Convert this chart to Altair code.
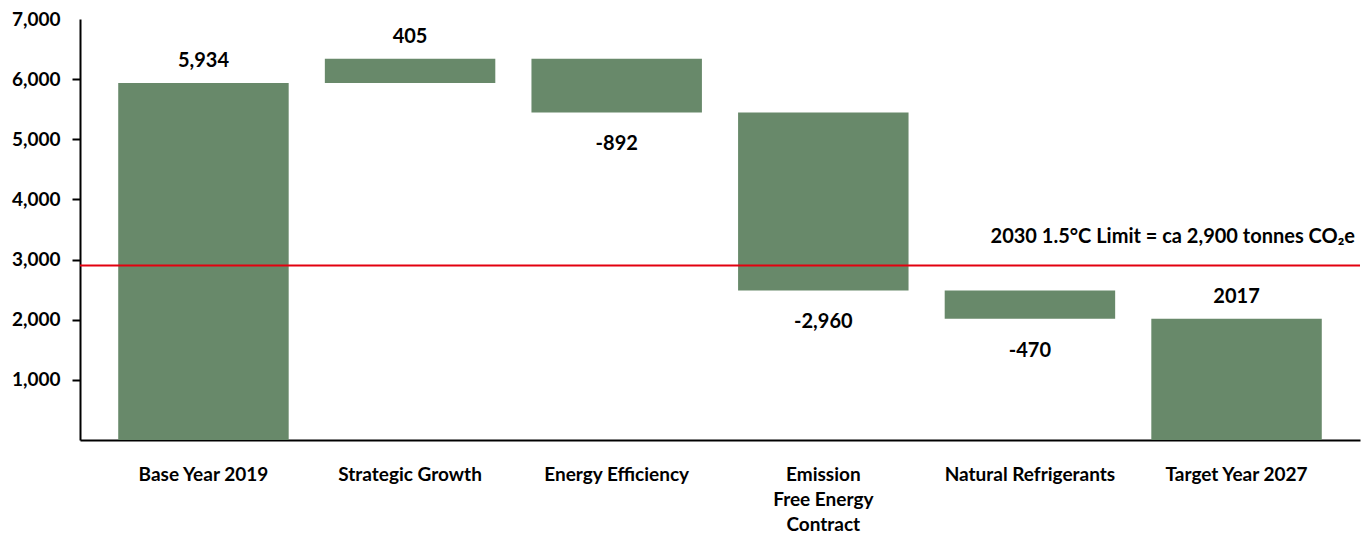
import altair as alt
import pandas as pd

categories = ["Base Year 2019", "Strategic Growth", "Energy Efficiency",
              "Emission Free Energy Contract", "Natural Refrigerants", "Target Year 2027"]
values = [5934, 405, -892, -2960, -470, 2017]
kinds = ["total", "delta", "delta", "delta", "delta", "total"]
labels = ["5,934", "405", "-892", "-2,960", "-470", "2017"]
limit_value = 2900
limit_text = "2030 1.5°C Limit = ca 2,900 tonnes CO₂e"
y_ticks = [1000, 2000, 3000, 4000, 5000, 6000, 7000]

rows = []
running = 0
for c, v, k, l in zip(categories, values, kinds, labels):
    if k == "total":
        start, end = 0, v
        running = v
    else:
        start, end = running, running + v
        running = end
    top = max(start, end)
    bottom = min(start, end)
    pos = v >= 0
    rows.append(dict(cat=c, start=start, end=end, label=l,
                     ly=top if pos else bottom, above=pos))
df = pd.DataFrame(rows)

FONT = "Lato"
GREEN = "#68896a"

x_enc = alt.X("cat:N", sort=categories, title=None,
              scale=alt.Scale(paddingInner=0.175, paddingOuter=0.185),
              axis=alt.Axis(ticks=False, labelAngle=0, labelPadding=25,
                            labelFontSize=19, labelFont=FONT, labelFontWeight="bold",
                            labelColor="black", labelLineHeight=25,
                            labelExpr="datum.value == 'Emission Free Energy Contract' ? ['Emission', 'Free Energy', 'Contract'] : datum.value",
                            domainColor="black", domainWidth=2))

y_scale = alt.Scale(domain=[0, 7000], nice=False)

bars = alt.Chart(df).mark_bar(color=GREEN).encode(
    x=x_enc,
    y=alt.Y("start:Q", scale=y_scale, title=None,
            axis=alt.Axis(values=y_ticks, grid=False, tickSize=8, tickWidth=2,
                          tickColor="black", domainColor="black", domainWidth=2,
                          labelPadding=12, labelFontSize=19, labelFont=FONT,
                          labelFontWeight="bold", labelColor="black",
                          tickOpacity={"condition": {"test": "datum.value == 7000", "value": 0}, "value": 1},
                          format=",.0f")),
    y2="end:Q",
)

txt_above = alt.Chart(df).transform_filter("datum.above").mark_text(
    font=FONT, fontWeight="bold", fontSize=20, color="black", dy=-22, baseline="middle"
).encode(x=alt.X("cat:N", sort=categories), y=alt.Y("ly:Q", scale=y_scale), text="label:N")

txt_below = alt.Chart(df).transform_filter("!datum.above").mark_text(
    font=FONT, fontWeight="bold", fontSize=20, color="black", dy=32, baseline="middle"
).encode(x=alt.X("cat:N", sort=categories), y=alt.Y("ly:Q", scale=y_scale), text="label:N")

rule = alt.Chart(pd.DataFrame({"v": [limit_value]})).mark_rule(
    color="#e3000f", strokeWidth=2
).encode(y=alt.Y("v:Q", scale=y_scale))

ann = alt.Chart(pd.DataFrame({"v": [limit_value], "t": [limit_text]})).mark_text(
    font=FONT, fontWeight="bold", fontSize=20, color="black", align="right",
    baseline="middle", dy=-29
).encode(y=alt.Y("v:Q", scale=y_scale), x=alt.value(1275), text="t:N")

chart = alt.layer(bars, rule, txt_above, txt_below, ann).properties(
    width=1280, height=421,
    padding={"left": 72, "top": 11, "right": 2, "bottom": 94},
    autosize="none",
).configure_view(stroke=None)

chart.save("out.html", embed_options={"renderer": "svg", "actions": False})
